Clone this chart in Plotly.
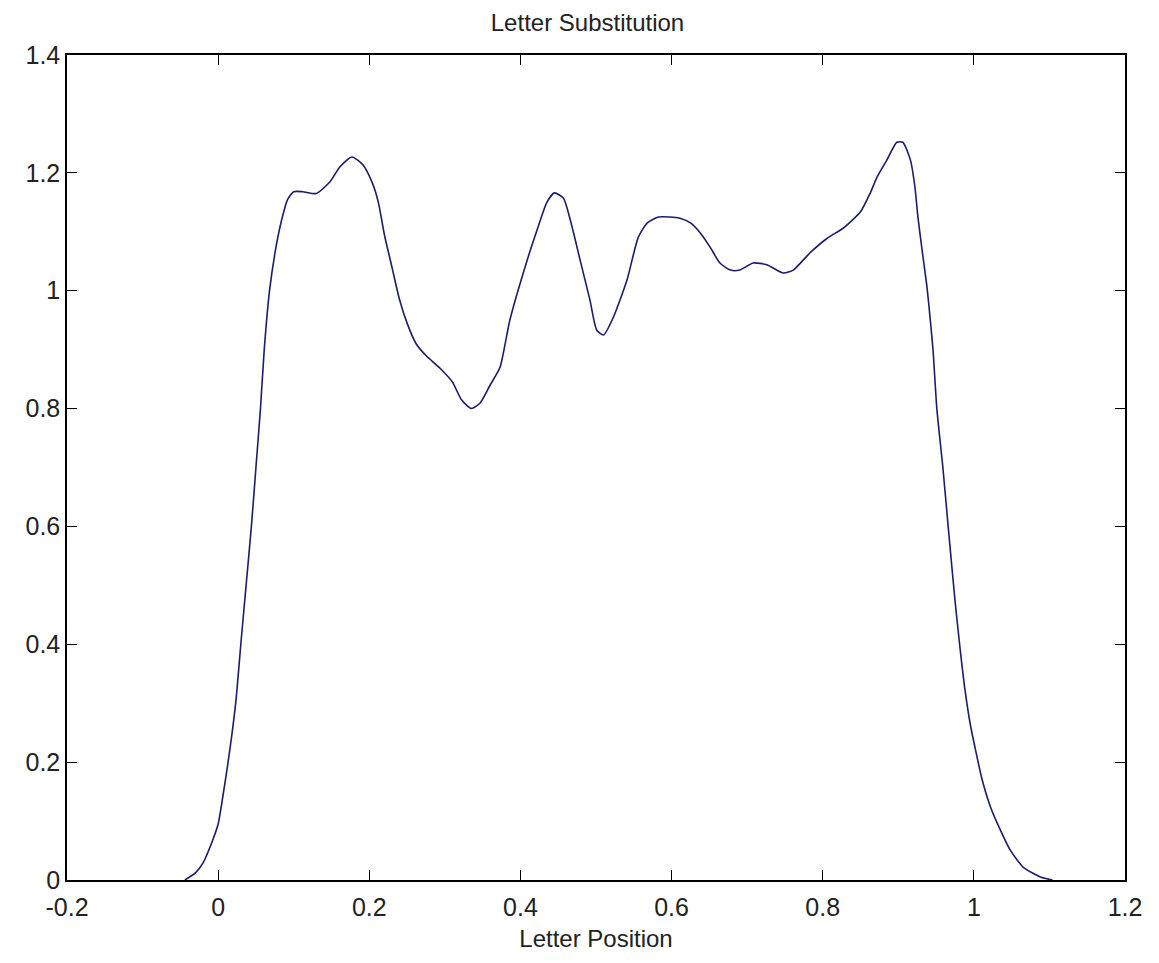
import plotly.graph_objects as go

x_vals = [-0.044, -0.03, -0.02, -0.008, 0.0, 0.006, 0.012, 0.018, 0.024, 0.030, 0.037, 0.044,
          0.050, 0.056, 0.061, 0.068, 0.076, 0.084, 0.092, 0.100, 0.112, 0.130, 0.148, 0.161,
          0.177, 0.192, 0.204, 0.212, 0.220, 0.230, 0.240, 0.250, 0.262, 0.275, 0.294, 0.310,
          0.322, 0.335, 0.347, 0.360, 0.373, 0.386, 0.409, 0.422, 0.435, 0.445, 0.457, 0.466,
          0.479, 0.492, 0.501, 0.510, 0.523, 0.541, 0.556, 0.568, 0.583, 0.611, 0.625, 0.638,
          0.651, 0.664, 0.678, 0.690, 0.708, 0.726, 0.748, 0.761, 0.783, 0.806, 0.827, 0.850,
          0.863, 0.872, 0.885, 0.898, 0.906, 0.916, 0.922, 0.926, 0.932, 0.938, 0.942, 0.946,
          0.951, 0.959, 0.966, 0.975, 0.982, 0.988, 0.995, 1.002, 1.011, 1.022, 1.035, 1.048,
          1.065, 1.088, 1.104]
y_vals = [0.0, 0.012, 0.029, 0.065, 0.095, 0.14, 0.19, 0.245, 0.31, 0.40, 0.50, 0.60,
          0.70, 0.80, 0.90, 1.00, 1.07, 1.12, 1.155, 1.168, 1.168, 1.165, 1.185, 1.21,
          1.227, 1.213, 1.183, 1.15, 1.095, 1.04, 0.985, 0.945, 0.91, 0.89, 0.868, 0.845,
          0.815, 0.80, 0.81, 0.84, 0.87, 0.95, 1.052, 1.103, 1.150, 1.166, 1.157, 1.12,
          1.052, 0.984, 0.933, 0.925, 0.955, 1.018, 1.091, 1.115, 1.125, 1.123, 1.115, 1.098,
          1.074, 1.047, 1.035, 1.035, 1.047, 1.044, 1.030, 1.035, 1.064, 1.089, 1.106, 1.134,
          1.166, 1.193, 1.222, 1.252, 1.252, 1.222, 1.176, 1.125, 1.064, 1.006, 0.955, 0.899,
          0.80, 0.70, 0.60, 0.475, 0.39, 0.325, 0.266, 0.222, 0.17, 0.124, 0.085, 0.051,
          0.022, 0.005, 0.0]

x_ticks = [-0.2, 0, 0.2, 0.4, 0.6, 0.8, 1, 1.2]
x_tick_labels = ["-0.2", "0", "0.2", "0.4", "0.6", "0.8", "1", "1.2"]
y_ticks = [0, 0.2, 0.4, 0.6, 0.8, 1, 1.2, 1.4]
y_tick_labels = ["0", "0.2", "0.4", "0.6", "0.8", "1", "1.2", "1.4"]

FONT = "Liberation Sans, Arial, sans-serif"

fig = go.Figure()
fig.add_trace(go.Scatter(x=x_vals, y=y_vals, mode="lines",
                         line=dict(color="#1c1c6a", width=1.6, shape="spline", smoothing=0.6),
                         showlegend=False))

axis_common = dict(showline=True, linecolor="black", linewidth=1.5, mirror="allticks",
                   ticks="inside", ticklen=10, tickcolor="black", tickwidth=1.3,
                   showgrid=False, zeroline=False,
                   tickfont=dict(family=FONT, size=25, color="#222222"))

fig.update_layout(
    width=1159, height=963,
    paper_bgcolor="white", plot_bgcolor="white",
    margin=dict(l=59, r=42, t=47, b=91),
    title=dict(text="Letter Substitution", x=0.5, xanchor="center", y=0.985, yanchor="middle",
               font=dict(family=FONT, size=24, color="#222222")),
    xaxis=dict(range=[-0.2, 1.2], tickvals=x_ticks, ticktext=x_tick_labels,
               ticklabelstandoff=4,
               title=dict(text="Letter Position", standoff=10,
                          font=dict(family=FONT, size=24, color="#222222")),
               **axis_common),
    yaxis=dict(range=[0, 1.4], tickvals=y_ticks, ticktext=y_tick_labels, **axis_common),
)

fig.write_html("out.html")
